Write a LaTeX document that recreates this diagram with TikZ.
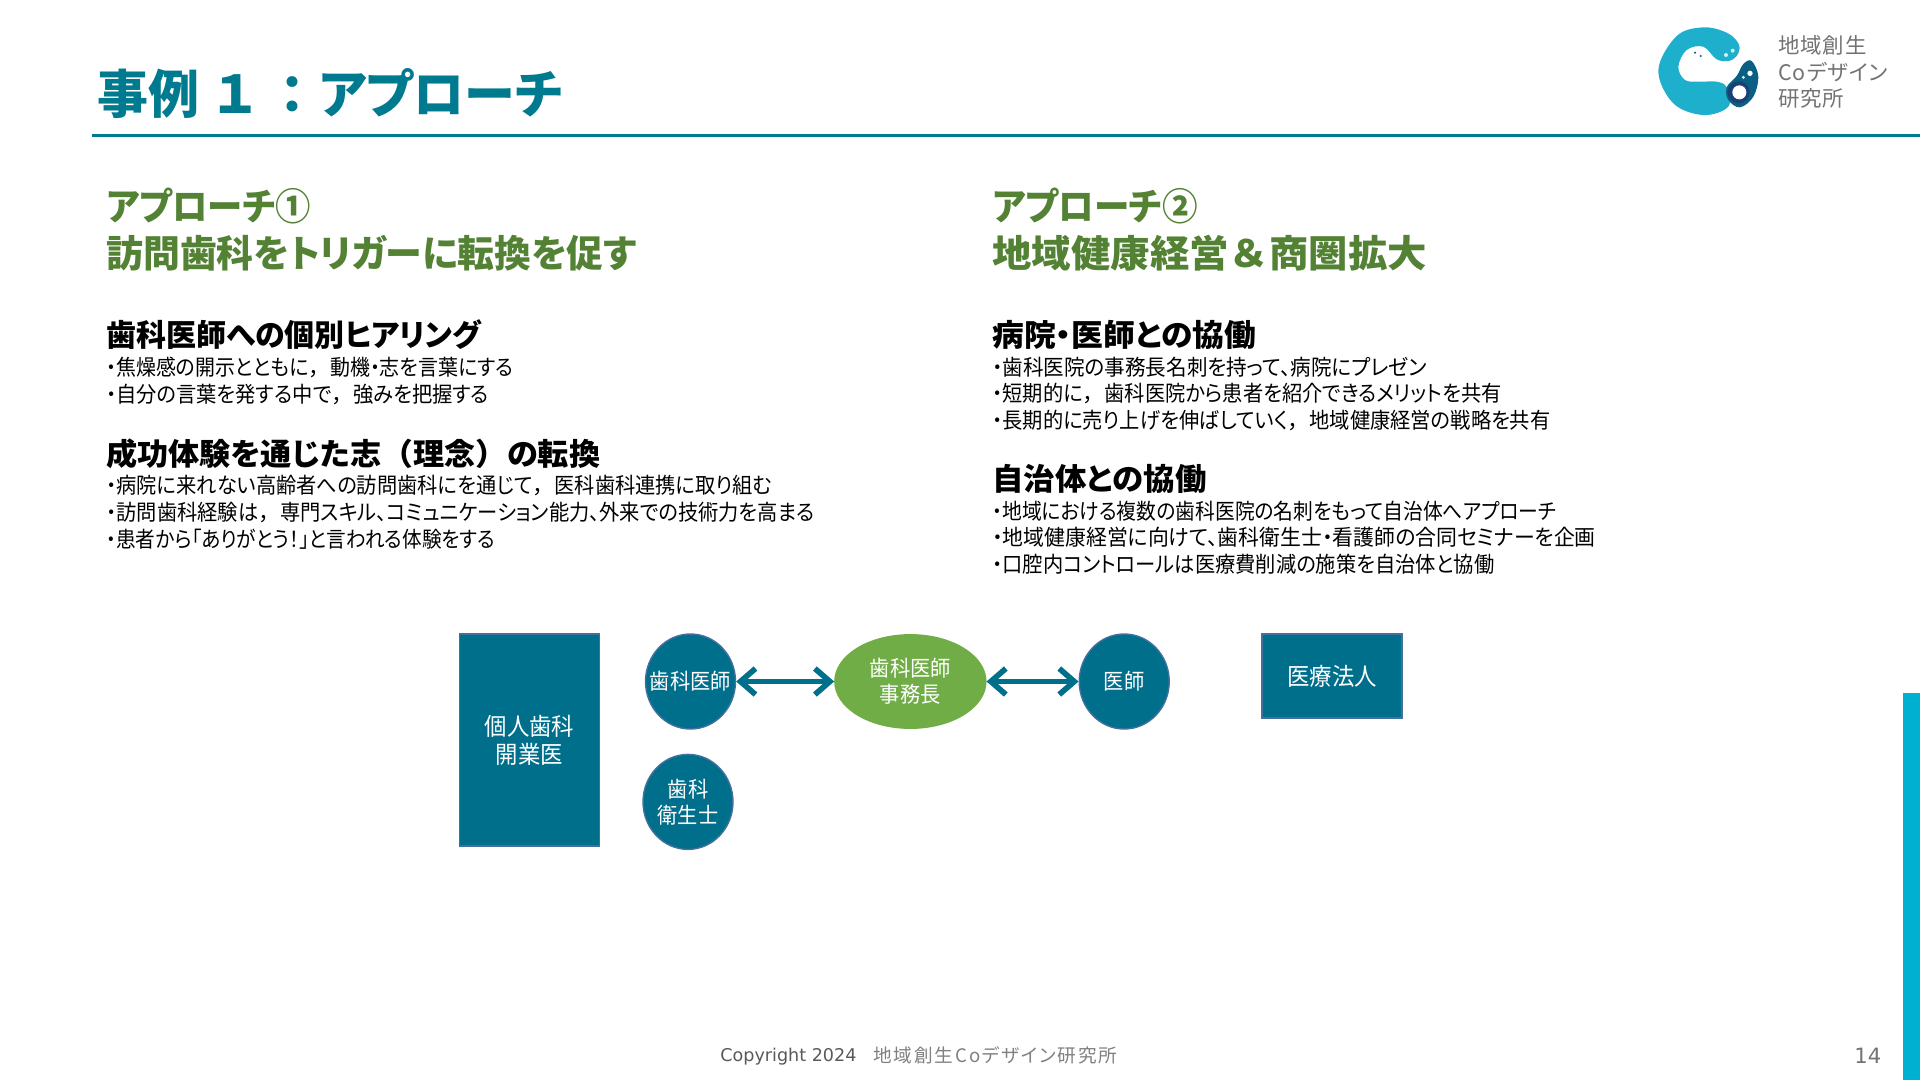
\documentclass[tikz,border=0pt]{standalone}
\usepackage{fontspec}
\usepackage{graphicx}
\setmainfont{Noto Sans CJK JP}[RawFeature=+palt, UprightFeatures={FakeStretch=0.93}, BoldFeatures={FakeStretch=0.98}]
\newfontfamily\latinfont{DejaVu Sans}
\newfontfamily\widefont{Noto Sans CJK JP}
\newfontfamily\logofont{Noto Sans CJK JP}[RawFeature=+palt, LetterSpace=4]
\newcommand{\wc}{{\widefont ，}}
\newcommand{\fitw}[2]{\scalebox{#1}[1]{#2}}
\usetikzlibrary{shapes, arrows.meta, positioning}

\definecolor{tealmain}{RGB}{0,111,140}
\definecolor{tealtitle}{RGB}{0,122,143}
\definecolor{tealedge}{RGB}{65,113,156}
\definecolor{greenhead}{RGB}{84,130,53}
\definecolor{greenfill}{RGB}{112,173,71}
\definecolor{cyanbar}{RGB}{0,176,208}
\definecolor{logocyan}{RGB}{30,175,205}
\definecolor{logodark}{RGB}{10,95,130}
\definecolor{logonavy}{RGB}{25,65,115}

\tikzset{
    titletext/.style={anchor=west, inner sep=0pt, text=tealtitle, font=\fontsize{29.6}{32}\selectfont\bfseries},
    headtext/.style={anchor=west, inner sep=0pt, text=greenhead, font=\fontsize{21.4}{24}\selectfont\bfseries},
    subtext/.style={anchor=west, inner sep=0pt, text=black, font=\fontsize{17.4}{20}\selectfont\bfseries},
    linetext/.style={anchor=west, inner sep=0pt, text=black, font=\fontsize{12.4}{14}\selectfont},
    logotext/.style={anchor=west, inner sep=0pt, text=black!55, font=\fontsize{12.2}{14}\logofont},
    footertext/.style={anchor=west, inner sep=0pt, text=black!65, font=\fontsize{10.6}{12}\selectfont},
    rectbox/.style={draw=tealedge, line width=0.8pt, fill=tealmain, text=white, align=center, inner sep=0pt},
    roundbox/.style={ellipse, draw=tealedge, line width=0.8pt, fill=tealmain, text=white, align=center,
        inner xsep=-0.3cm, inner ysep=-0.2cm, minimum width=1.8cm, minimum height=1.9cm, font=\fontsize{12.4}{14.6}\selectfont},
    linkarrow/.style={{Straight Barb[length=0.3cm, width=0.52cm]}-{Straight Barb[length=0.3cm, width=0.52cm]},
        draw=tealmain, line width=3.2pt, line cap=round, line join=round},
}

\begin{document}
\begin{tikzpicture}[x=0.02cm, y=-0.02cm]
\useasboundingbox (0,0) rectangle (1920,1080);

% title and rule
\node[titletext] (title) at (97,94) {事例\hspace{0.2em}{\widefont １}\hspace{0.1em}{\widefont ：}アプローチ};
\draw[tealtitle, line width=1.7pt] (92,135) -- (1920,135);
\fill[cyanbar] (1903,693) rectangle (1920,1080);

% logo
\begin{scope}[shift={(1620,0)}, scale=1/3]
    \fill[logocyan] plot[smooth cycle, tension=0.6] coordinates {(355,130) (320,98) (250,82) (170,108) (115,210) (160,310) (250,345) (325,320) (320,262) (290,245) (240,245) (195,240) (175,200) (200,150) (250,140) (290,178) (330,182) (355,160)};
    \fill[logodark] plot[smooth cycle, tension=0.6] coordinates {(395,183) (415,230) (400,290) (360,322) (325,300) (320,262) (350,228) (370,192)};
    \fill[logonavy] (356,277) circle (33);
    \fill[white] (358,277) circle (21);
    \fill[white] (390,220) circle (8);
    \fill[white!80!logocyan] (370,232) circle (5);
    \fill[white!80!logocyan] (318,165) circle (6);
    \fill[white!80!logocyan] (338,152) circle (6);
    \fill[logodark] (225,158) circle (3.5);
    \fill[logodark] (242,168) circle (3.5);
\end{scope}
\node[logotext] (logoa) at (1778,45) {地域創生};
\node[logotext] (logob) at (1778,72) {Coデザイン};
\node[logotext] (logoc) at (1778,98) {研究所};

% left column
\node[headtext] (heada) at (106,206) {\fitw{0.96}{アプローチ①}};
\node[headtext] (headb) at (106,253) {訪問歯科をトリガーに転換を促す};
\node[subtext] (suba) at (106,335) {歯科医師への個別ヒアリング};
\node[linetext] (la) at (106,367) {\fitw{0.985}{・焦燥感の開示とともに\wc 動機・志を言葉にする}};
\node[linetext] (lb) at (106,394) {・自分の言葉を発する中で\wc 強みを把握する};
\node[subtext] (subb) at (106,454) {\fitw{1.04}{成功体験を通じた志{\widefont （}理念{\widefont ）}の転換}};
\node[linetext] (lc) at (106,485) {・病院に来れない高齢者への訪問歯科にを通じて\wc 医科歯科連携に取り組む};
\node[linetext] (ld) at (106,512) {・訪問歯科経験は\wc 専門スキル、コミュニケーション能力、外来での技術力を高まる};
\node[linetext] (le) at (106,539) {\fitw{0.97}{・患者から「ありがとう！」と言われる体験をする}};

% right column
\node[headtext] (headc) at (992,206) {\fitw{0.965}{アプローチ②}};
\node[headtext] (headd) at (992,253) {\fitw{1.07}{地域健康経営{\widefont ＆}商圏拡大}};
\node[subtext] (subc) at (992,335) {\fitw{1.06}{病院・医師との協働}};
\node[linetext] (ra) at (992,367) {\fitw{1.015}{・歯科医院の事務長名刺を持って、病院にプレゼン}};
\node[linetext] (rb) at (992,393) {・短期的に\wc 歯科医院から患者を紹介できるメリットを共有};
\node[linetext] (rc) at (992,420) {・長期的に売り上げを伸ばしていく\wc 地域健康経営の戦略を共有};
\node[subtext] (subd) at (992,479) {\fitw{1.05}{自治体との協働}};
\node[linetext] (rd) at (992,511) {\fitw{0.977}{・地域における複数の歯科医院の名刺をもって自治体へアプローチ}};
\node[linetext] (re) at (992,537) {\fitw{1.03}{・地域健康経営に向けて、歯科衛生士・看護師の合同セミナーを企画}};
\node[linetext] (rf) at (992,564) {・口腔内コントロールは医療費削減の施策を自治体と協働};

% diagram
\node[rectbox, minimum width=2.8cm, minimum height=4.24cm, font=\fontsize{13.7}{16}\selectfont] (kojin) at (529.5,740) {個人歯科\\開業医};
\node[roundbox] (dentist) at (690.5,681.5) {歯科医師};
\node[roundbox, below=0.48cm of dentist, xshift=-0.05cm] (hygienist) {歯科\\衛生士};
\node[roundbox, right=1.96cm of dentist, minimum width=3.02cm, minimum height=1.87cm, fill=greenfill, draw=greenfill] (manager) {歯科医師\\事務長};
\node[roundbox, right=1.84cm of manager] (doctor) {医師};
\node[rectbox, minimum width=2.8cm, minimum height=1.68cm, font=\fontsize{13.7}{16}\selectfont] (houjin) at (1332,676) {医療法人};

\draw[linkarrow] (dentist) -- (manager);
\draw[linkarrow] (manager) -- (doctor);

% footer
\node[footertext, font=\fontsize{10}{12}\latinfont] (copy) at (720,1057) {Copyright 2024};
\node[footertext, text=black!50, font=\fontsize{10.6}{12}\logofont\addfontfeature{LetterSpace=10}] (copyb) at (873,1055) {地域創生Coデザイン研究所};
\node[footertext, text=black!55, font=\fontsize{12}{14}\latinfont] (pageno) at (1854,1056) {14};

\end{tikzpicture}
\end{document}
